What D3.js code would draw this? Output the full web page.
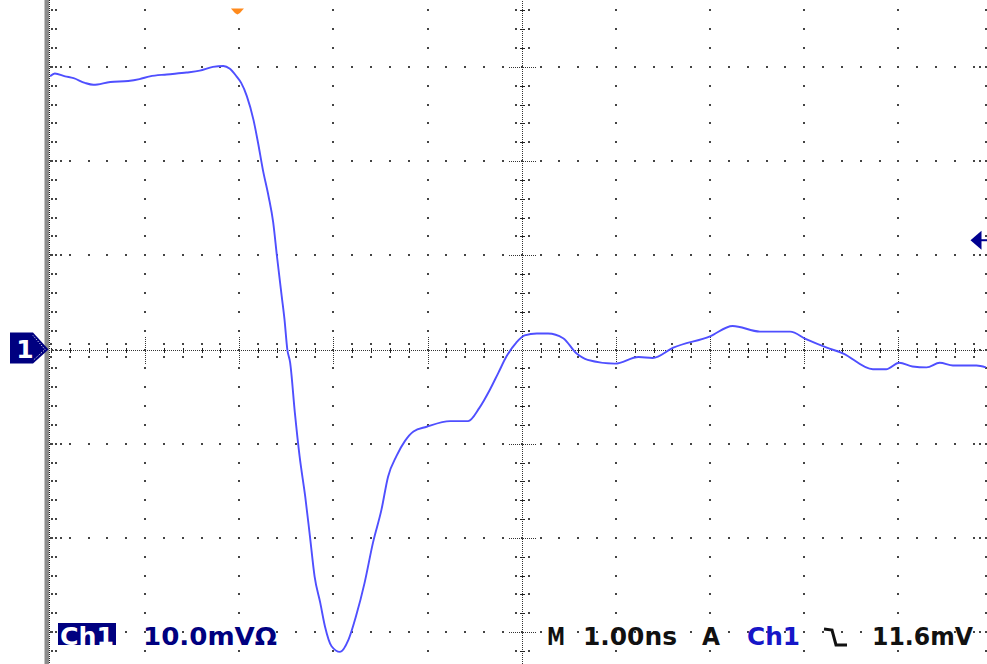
<!DOCTYPE html>
<html>
<head>
<meta charset="utf-8">
<script src="https://cdn.jsdelivr.net/npm/d3@7"></script>
<style>
  html, body { margin: 0; padding: 0; background: #fff; }
  svg { display: block; }
  text { font-family: "DejaVu Sans", sans-serif; font-weight: bold; font-size: 24px; }
</style>
</head>
<body>
<svg id="scope" width="987" height="664"></svg>
<script>
// trace: time in ns (screen centre = 0), amplitude in mV
const timeNs = [
  -5.01, -4.96, -4.85, -4.76, -4.64, -4.55, -4.37, -4.18, -4.06, -3.95,
  -3.77, -3.56, -3.42, -3.28, -3.17, -3.10, -3.03, -2.98, -2.92, -2.85,
  -2.80, -2.75, -2.69, -2.64, -2.60, -2.55, -2.52, -2.49, -2.46, -2.41,
  -2.36, -2.30, -2.25, -2.20, -2.14, -2.09, -2.02, -1.93, -1.84, -1.76,
  -1.67, -1.58, -1.49, -1.42, -1.33, -1.24, -1.15, -1.01, -0.76, -0.57,
  -0.45, -0.34, -0.25, -0.16, -0.06, 0.03, 0.16, 0.28, 0.44, 0.58,
  0.70, 0.99, 1.24, 1.39, 1.61, 2.00, 2.24, 2.53, 2.85, 3.02,
  3.24, 3.41, 3.73, 3.87, 4.01, 4.15, 4.30, 4.44, 4.58, 4.83, 4.93
];
const voltageMv = [
  29.0, 29.3, 29.0, 28.8, 28.3, 28.1, 28.4, 28.5, 28.7, 29.0,
  29.2, 29.4, 29.6, 30.0, 30.1, 29.8, 29.0, 28.3, 26.9, 24.4,
  21.9, 19.1, 16.3, 13.5, 9.9, 5.7, 3.2, 0.0, -1.4, -6.7,
  -11.3, -15.6, -19.8, -24.1, -26.9, -29.4, -31.5, -32.1, -30.8, -28.3,
  -24.8, -20.5, -17.0, -13.5, -11.3, -9.7, -8.7, -8.2, -7.6, -7.6,
  -6.2, -4.3, -2.5, -0.7, 0.7, 1.5, 1.7, 1.7, 1.2, -0.4,
  -1.1, -1.5, -0.8, -0.9, 0.2, 1.4, 2.5, 1.9, 1.9, 1.1,
  0.2, -0.4, -2.1, -2.1, -1.4, -1.8, -1.9, -1.4, -1.7, -1.7, -1.9
];

const triggerLevelMv = 11.6;
const triggerTimeNs = -3.02;

const leftReadout = ["Ch1", "10.0mVΩ"];
const rightReadout = ["M", "1.00ns", "A", "Ch1", "11.6mV"];

const svg = d3.select("#scope");

// 10 divisions across, 8 down
const x = d3.scaleLinear().domain([-5, 5]).range([51, 51 + 10 * 94.15]);
const y = d3.scaleLinear().domain([-40, 40]).range([349.5 + 4 * 94.2, 349.5 - 4 * 94.2]);

const minorT = d3.range(-50, 51, 2).map(d => d / 10);
const minorV = d3.range(-40, 41, 2);
const majorT = d3.range(-4, 5);
const majorV = d3.range(-30, 31, 10);

const grid = svg.append("g").attr("shape-rendering", "crispEdges").attr("fill", "#444");
const px = v => Math.round(v);

function dot(cx, cy) {
  grid.append("rect").attr("x", px(cx) - 1).attr("y", px(cy) - 1).attr("width", 2).attr("height", 2);
}

// dotted major lines
majorT.filter(t => t !== 0).forEach(t => minorV.forEach(v => dot(x(t), y(v))));
majorV.filter(v => v !== 0).forEach(v => minorT.forEach(t => dot(x(t), y(v))));

// centre cross hair with ticks
const cx0 = px(x(0)), cy0 = px(y(0));
grid.append("line").attr("x1", x(-5)).attr("x2", x(5)).attr("y1", cy0 + 0.5).attr("y2", cy0 + 0.5)
  .attr("stroke", "#333").attr("stroke-dasharray", "1,1");
grid.append("line").attr("x1", cx0 + 0.5).attr("x2", cx0 + 0.5).attr("y1", y(40)).attr("y2", y(-40))
  .attr("stroke", "#333").attr("stroke-dasharray", "1,1");

minorT.forEach(t => {
  const xx = px(x(t));
  if (Math.abs(t - Math.round(t)) < 1e-6 && Math.abs(t) < 5) {
    grid.append("line").attr("x1", xx + 0.5).attr("x2", xx + 0.5).attr("y1", cy0 - 13).attr("y2", cy0 + 14)
      .attr("stroke", "#333").attr("stroke-dasharray", "1,1");
  } else {
    dot(xx, cy0 - 6); dot(xx, cy0 + 7);
    grid.append("rect").attr("x", xx - 0.5).attr("y", cy0 - 2).attr("width", 1.5).attr("height", 5).attr("fill", "#222");
  }
});
minorV.forEach(v => {
  const yy = px(y(v));
  if (v % 10 === 0 && Math.abs(v) < 40) {
    grid.append("line").attr("y1", yy + 0.5).attr("y2", yy + 0.5).attr("x1", cx0 - 13).attr("x2", cx0 + 14)
      .attr("stroke", "#333").attr("stroke-dasharray", "1,1");
  } else {
    dot(cx0 - 6, yy); dot(cx0 + 7, yy);
    grid.append("rect").attr("y", yy - 0.5).attr("x", cx0 - 2).attr("height", 1.5).attr("width", 5).attr("fill", "#222");
  }
});

// left frame edge and edge ticks (the right edge sits just off the picture)
svg.append("rect").attr("x", 44.5).attr("y", 0).attr("width", 4.5).attr("height", 664).attr("fill", "#8c8c8c");
svg.append("line").attr("x1", 49.5).attr("x2", 49.5).attr("y1", 0).attr("y2", 664)
  .attr("stroke", "#222").attr("stroke-dasharray", "1,1");
minorV.forEach(v => {
  const yy = y(v), major = v % 10 === 0;
  dot(x(-5) + 1, yy); dot(x(-5) + 4.5, yy);
  dot(x(5) - 1, yy); dot(x(5) - 6.5, yy);
  if (major) { dot(x(-5) + 10, yy); dot(x(5) - 12.5, yy); }
});

// trace
svg.append("defs").append("clipPath").attr("id", "screen")
  .append("rect").attr("x", 50).attr("y", 0).attr("width", 937).attr("height", 664);

const line = d3.line().curve(d3.curveMonotoneX).x(d => x(d[0])).y(d => y(d[1]));
svg.append("path")
  .datum(d3.zip(timeNs, voltageMv))
  .attr("clip-path", "url(#screen)")
  .attr("d", line)
  .attr("fill", "none")
  .attr("stroke", "#4f4fff")
  .attr("stroke-width", 1.9)
  .attr("stroke-linejoin", "round");

// trigger position marker (top, orange)
const tx = x(triggerTimeNs);
svg.append("polygon")
  .attr("points", [[tx - 6.5, 8.5], [tx + 6.5, 8.5], [tx + 2.5, 13], [tx, 14.5], [tx - 2.5, 13]].join(" "))
  .attr("fill", "#ff8a1c");

// trigger level marker (right)
const ty = y(triggerLevelMv);
svg.append("polygon")
  .attr("points", [[970.5, ty], [981.5, ty - 9.5], [981.5, ty + 9.5]].join(" "))
  .attr("fill", "#000090");
svg.append("rect").attr("x", 980).attr("y", ty - 1).attr("width", 7).attr("height", 2).attr("fill", "#000090");

// channel 1 ground marker
const gy = y(0);
svg.append("path")
  .attr("d", `M10,${gy - 17} H33 L48.5,${gy} L33,${gy + 14} H10 Z`)
  .attr("fill", "#000080");
svg.append("path")
  .attr("d", `M33,${gy - 14} L45,${gy} L33,${gy + 11}`)
  .attr("fill", "none").attr("stroke", "#fff").attr("stroke-dasharray", "1,1.5");
svg.append("text").attr("x", 25).attr("y", gy + 8.5).attr("text-anchor", "middle")
  .attr("fill", "#fff").style("font-size", "25px").text("1");

// readouts
const base = 645;
svg.append("rect").attr("x", 58).attr("y", 623).attr("width", 58).attr("height", 22).attr("fill", "#000080");

const readouts = [
  { text: leftReadout[0], x: 60, w: 54, fill: "#fff" },
  { text: leftReadout[1], x: 143, w: 134, fill: "#000080" },
  { text: rightReadout[0], x: 547, w: 18, fill: "#111" },
  { text: rightReadout[1], x: 583, w: 94, fill: "#111" },
  { text: rightReadout[2], x: 702, w: 18, fill: "#111" },
  { text: rightReadout[3], x: 747, w: 53, fill: "#1616c8" },
  { text: rightReadout[4], x: 872, w: 101, fill: "#111" }
];
svg.selectAll("text.readout")
  .data(readouts)
  .join("text")
  .attr("class", "readout")
  .attr("x", d => d.x)
  .attr("y", base)
  .attr("textLength", d => d.w)
  .attr("lengthAdjust", "spacingAndGlyphs")
  .attr("fill", d => d.fill)
  .text(d => d.text);

// falling edge slope symbol
svg.append("path")
  .attr("d", "M824,629 L832,630 L836,645 L847,645")
  .attr("fill", "none").attr("stroke", "#111").attr("stroke-width", 3);
</script>
</body>
</html>
